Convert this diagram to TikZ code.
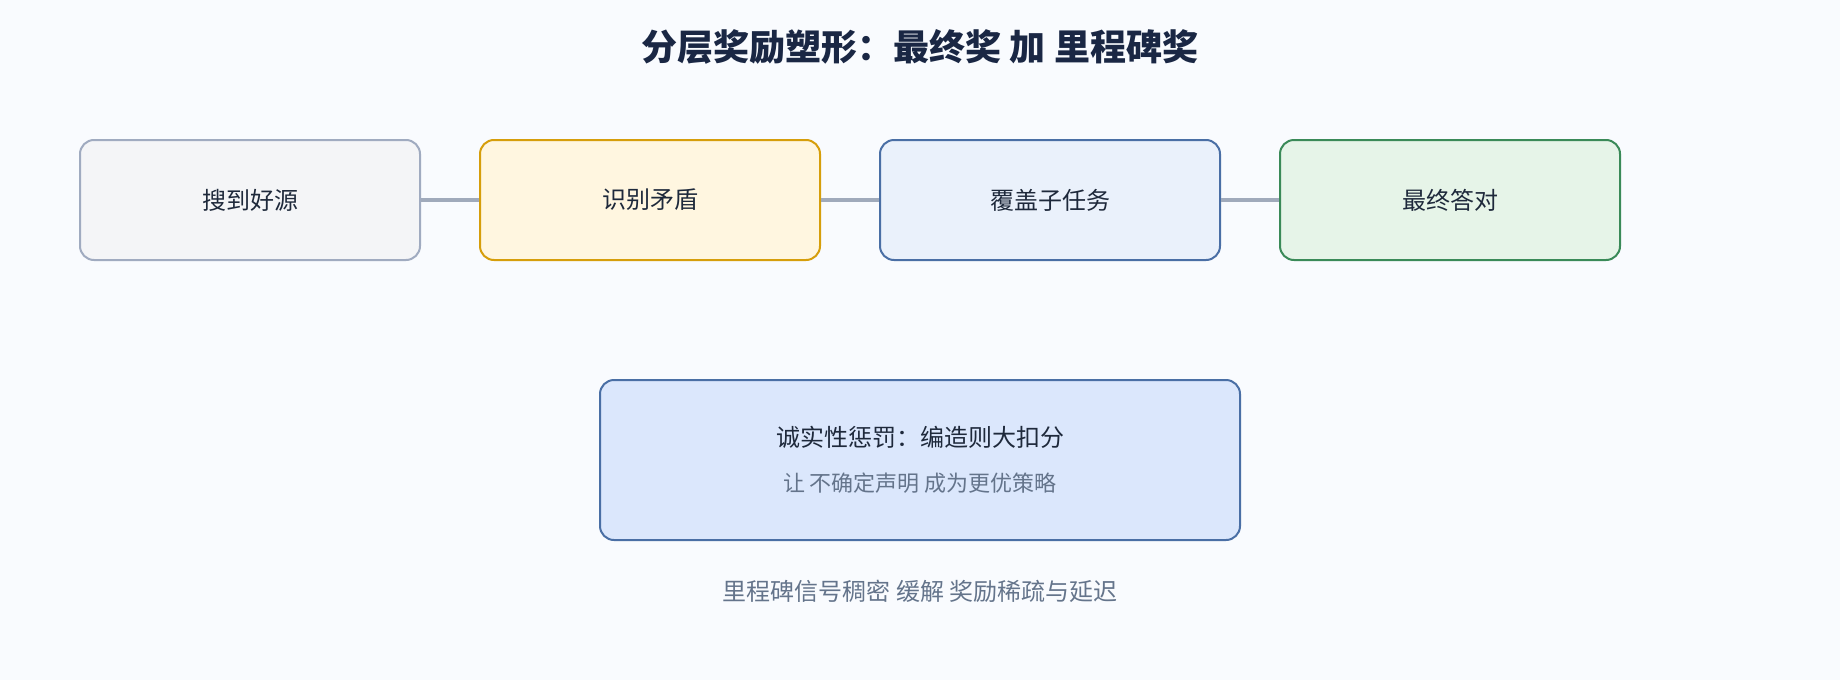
\documentclass[tikz,border=0pt]{standalone}
\usepackage{fontspec}
\setmainfont{Noto Sans CJK SC}
\usepackage{xcolor}
\usepackage{tikz}
\usetikzlibrary{positioning, backgrounds}

\definecolor{pagebg}{HTML}{F9FBFE}
\definecolor{inkdark}{HTML}{1E293B}
\definecolor{inktitle}{HTML}{1A2744}
\definecolor{inksoft}{HTML}{64748B}
\definecolor{linkgray}{HTML}{A0AABB}
\definecolor{grayline}{HTML}{A0ABC0}
\definecolor{grayfill}{HTML}{F4F5F7}
\definecolor{amberline}{HTML}{D69E0B}
\definecolor{amberfill}{HTML}{FFF6E0}
\definecolor{blueline}{HTML}{4A6FA5}
\definecolor{bluefill}{HTML}{EAF1FB}
\definecolor{greenline}{HTML}{3A8A58}
\definecolor{greenfill}{HTML}{E6F4E8}
\definecolor{penfill}{HTML}{DBE7FC}

\begin{document}
\begin{tikzpicture}[
  milestone/.style={rectangle, rounded corners=7pt, line width=1pt,
                    minimum width=170pt, minimum height=60pt,
                    font=\fontsize{12pt}{14pt}\selectfont, text=inkdark, align=center},
  penalty/.style={rectangle, rounded corners=7pt, line width=1pt,
                  draw=blueline, fill=penfill,
                  minimum width=320pt, minimum height=80pt,
                  font=\fontsize{12pt}{22.5pt}\selectfont, text=inkdark, align=center},
  note/.style={font=\fontsize{12pt}{14pt}\selectfont, text=inksoft, align=center},
  link/.style={line width=2pt, draw=linkgray},
  node distance=0pt and 29pt
]
  \useasboundingbox[fill=pagebg] (0,0) rectangle (920pt,-340pt);
  \node[font=\fontsize{18pt}{20pt}\selectfont\bfseries, text=inktitle] (title)
    at (460pt,-23.5pt) {分层奖励塑形：最终奖 加 里程碑奖};

  \node[milestone, draw=grayline, fill=grayfill] (m1) at (125pt,-100pt) {搜到好源};
  \node[milestone, draw=amberline, fill=amberfill, right=of m1] (m2) {识别矛盾};
  \node[milestone, draw=blueline, fill=bluefill, right=of m2] (m3) {覆盖子任务};
  \node[milestone, draw=greenline, fill=greenfill, right=of m3] (m4) {最终答对};
  \draw[link] (m1) -- (m2);
  \draw[link] (m2) -- (m3);
  \draw[link] (m3) -- (m4);

  \node[penalty] (honest) at (460pt,-230pt)
    {诚实性惩罚：编造则大扣分\\{\fontsize{11pt}{14pt}\selectfont\color{inksoft}让 不确定声明 成为更优策略}};

  \node[note] (gist) at (460pt,-295.5pt) {里程碑信号稠密 缓解 奖励稀疏与延迟};
\end{tikzpicture}
\end{document}
